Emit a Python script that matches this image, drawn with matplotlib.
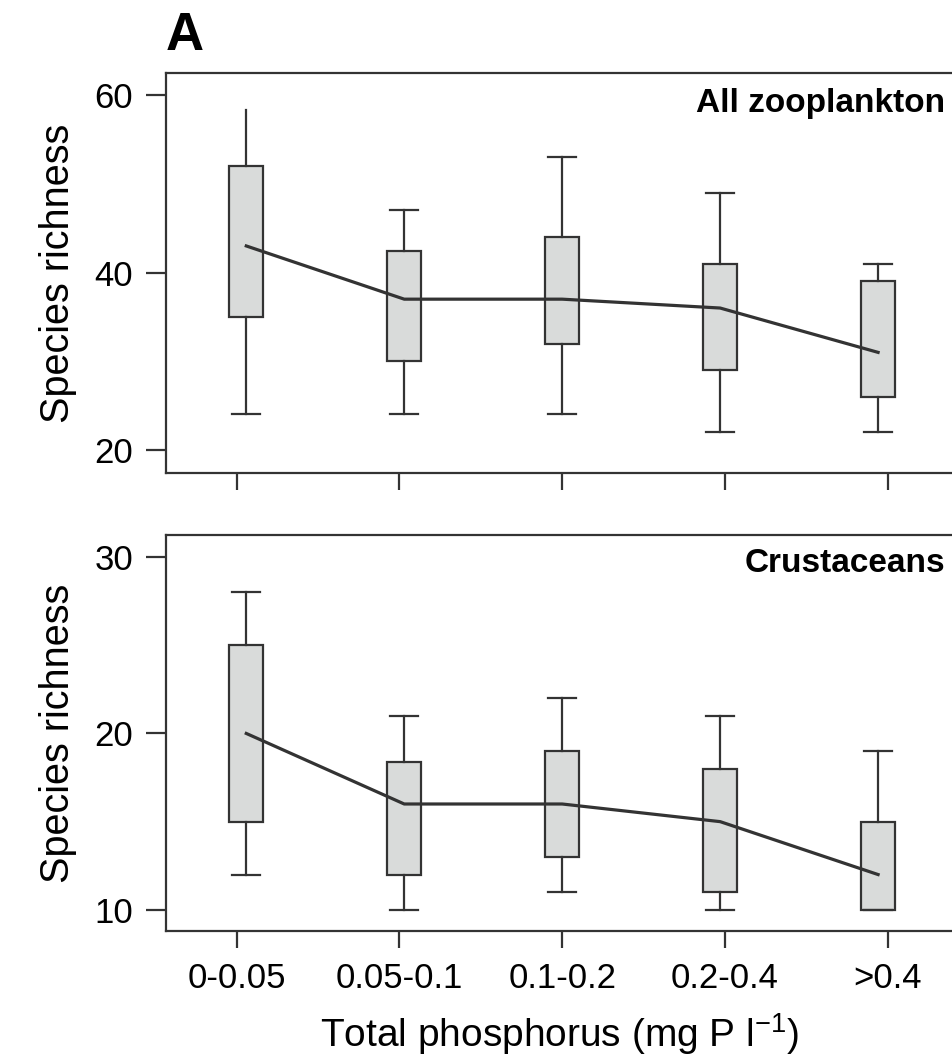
import numpy as np
from matplotlib import pyplot as plt

plt.rcParams['font.family'] = ['Liberation Sans', 'DejaVu Sans']
plt.rcParams['mathtext.default'] = 'regular'

categories = ['0-0.05', '0.05-0.1', '0.1-0.2', '0.2-0.4', '>0.4']

# all zooplankton: whisker low, q1, median, q3, whisker high
zoo_low = [24, 24, 24, 22, 22]
zoo_q1 = [35, 30, 32, 29, 26]
zoo_med = [43, 37, 37, 36, 31]
zoo_q3 = [52, 42.4, 44, 41, 39]
zoo_high = [58.3, 47, 53, 49, 41]

# crustaceans
cru_low = [12, 10, 11, 10, 10]
cru_q1 = [15, 12, 13, 11, 10]
cru_med = [20, 16, 16, 15, 12]
cru_q3 = [25, 18.4, 19, 18, 15]
cru_high = [28, 21, 22, 21, 19]

edge = '#333333'
fill = '#d9dbda'

fig = plt.figure(figsize=(9.53, 10.6), dpi=100)
ax1 = fig.add_axes([166/953, 1 - 473/1060, 1 - 166/953, 400/1060])
ax2 = fig.add_axes([166/953, 1 - 931/1060, 1 - 166/953, 396/1060])

ticks = np.arange(1, 6)
pos = 3 + (np.arange(5) - 2) * 0.97  # boxes sit a bit inside the ticks


def draw_panel(ax, low, q1, med, q3, high, ylim, yticks, name, ty):
    stats = []
    for i in range(5):
        stats.append(dict(whislo=low[i], q1=q1[i], med=med[i], q3=q3[i],
                          whishi=high[i], fliers=[]))
    bp = ax.bxp(stats, positions=pos, widths=0.21, patch_artist=True,
                showfliers=False, capwidths=0.17, manage_ticks=False,
                boxprops=dict(facecolor=fill, edgecolor=edge, linewidth=1.6),
                whiskerprops=dict(color=edge, linewidth=1.6),
                capprops=dict(color=edge, linewidth=1.6),
                medianprops=dict(visible=False))
    ax.plot(pos, med, color=edge, linewidth=2.3, zorder=5)
    ax.set_xlim(0.567, 5.4)
    ax.set_ylim(*ylim)
    ax.set_yticks(yticks)
    ax.set_xticks(ticks)
    ax.spines['right'].set_visible(False)
    for s in ['left', 'top', 'bottom']:
        ax.spines[s].set_linewidth(1.6)
        ax.spines[s].set_color(edge)
    ax.tick_params(axis='y', length=14.5, width=1.6, pad=9, labelsize=25,
                   color=edge)
    ax.tick_params(axis='x', length=12, width=1.6, pad=10, labelsize=25,
                   color=edge)
    ax.set_ylabel('Species richness', fontsize=28.5, labelpad=13)
    ax.text(0.99, ty, name, transform=ax.transAxes, ha='right',
            va='baseline', fontsize=24, fontweight='bold')
    return bp


bp1 = draw_panel(ax1, zoo_low, zoo_q1, zoo_med, zoo_q3, zoo_high,
                 (17.4, 62.5), [20, 40, 60], 'All zooplankton', 0.9025)
bp1['caps'][1].set_visible(False)  # no top cap on first box in the original
ax1.set_xticklabels([])

draw_panel(ax2, cru_low, cru_q1, cru_med, cru_q3, cru_high,
           (8.8, 31.25), [10, 20, 30], 'Crustaceans', 0.907)
ax2.set_xticklabels(categories)
ax2.set_xlabel('Total phosphorus (mg P l$^{-1}$)', fontsize=28, labelpad=12)

fig.text(166/953, 1 - 50/1060, 'A', fontsize=38, fontweight='bold',
         ha='left', va='baseline')

fig.savefig('out.png', dpi=100)
